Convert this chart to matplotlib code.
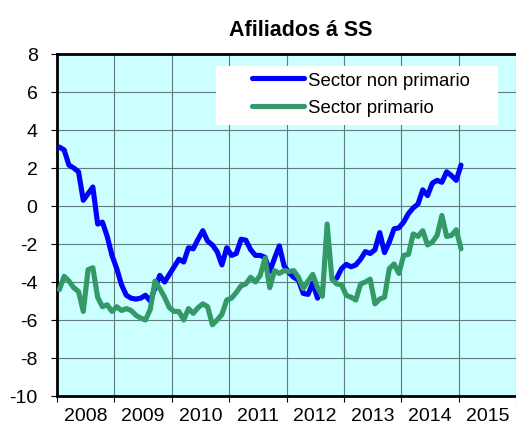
import numpy as np
import matplotlib.pyplot as plt
from matplotlib.patches import Rectangle

plt.rcParams['font.family'] = ['Liberation Sans', 'DejaVu Sans']
plt.rcParams['axes.unicode_minus'] = False

# monthly series, Jan 2008 - Jan 2015 (year-on-year %)
non_primary = [3.1, 2.95, 2.15, 2.0, 1.8, 0.3, 0.65, 1.0, -0.95, -0.85,
               -1.6, -2.6, -3.3, -4.15, -4.7, -4.85, -4.9, -4.85, -4.7, -5.0,
               -4.3, -3.65, -4.0, -3.6, -3.2, -2.8, -2.95, -2.2, -2.25, -1.75,
               -1.3, -1.85, -2.05, -2.4, -3.1, -2.2, -2.6, -2.5, -1.75, -1.8,
               -2.3, -2.6, -2.6, -2.7, -3.45, -2.75, -2.1, -3.15, -3.5, -3.75,
               -3.9, -4.6, -4.65, -4.05, -4.85, np.nan, np.nan, np.nan, -3.8, -3.3,
               -3.07, -3.2, -3.1, -2.8, -2.4, -2.5, -2.3, -1.4, -2.45, -1.9,
               -1.2, -1.15, -0.85, -0.4, -0.1, 0.1, 0.85, 0.55, 1.2, 1.35,
               1.25, 1.8, 1.6, 1.35, 2.15]
primary = [-4.4, -3.7, -3.95, -4.3, -4.5, -5.55, -3.35, -3.25, -4.8, -5.3,
           -5.2, -5.55, -5.3, -5.5, -5.4, -5.5, -5.75, -5.9, -6.0, -5.45,
           -3.95, -4.35, -4.8, -5.35, -5.55, -5.55, -6.0, -5.4, -5.65, -5.35,
           -5.15, -5.3, -6.25, -6.0, -5.7, -4.95, -4.85, -4.55, -4.2, -4.1,
           -3.75, -4.0, -3.65, -2.75, -4.3, -3.4, -3.55, -3.4, -3.45, -3.4,
           -3.75, -4.35, -3.95, -3.6, -4.3, -4.75, -0.95, -3.85, -4.1, -4.15,
           -4.7, -4.8, -4.95, -4.1, -4.0, -3.85, -5.15, -4.9, -4.8, -3.3,
           -3.05, -3.55, -2.6, -2.55, -1.47, -1.6, -1.3, -2.05, -1.9, -1.55,
           -0.5, -1.6, -1.55, -1.25, -2.25]
years = ['2008', '2009', '2010', '2011', '2012', '2013', '2014', '2015']
labels = ['Sector non primario', 'Sector primario']

months = np.arange(len(non_primary)) + 0.5

fig = plt.figure(figsize=(5.16, 4.31), dpi=100)
ax = fig.add_axes([57 / 516, 34 / 431, 459 / 516, 342 / 431])
ax.set_facecolor('#ccffff')

ax.plot(months, non_primary, color='#0000ff', lw=3.7, label=labels[0],
        solid_joinstyle='round', solid_capstyle='round', zorder=3)
ax.plot(months, primary, color='#339966', lw=3.7, label=labels[1],
        solid_joinstyle='round', solid_capstyle='round', zorder=3)

ax.set_xlim(0, 12 * len(years))
ax.set_ylim(-10, 8)
ax.set_yticks(np.arange(-10, 9, 2))
ax.set_xticks(np.arange(0, 12 * len(years) + 1, 12))
ax.set_xticks(np.arange(6, 12 * len(years), 12), minor=True)
ax.set_xticklabels([])
ax.set_xticklabels(years, minor=True)
ax.tick_params(axis='x', which='minor', length=0, pad=8, labelsize=14)
ax.tick_params(axis='x', which='major', length=4, width=0.8, direction='out')
ax.tick_params(axis='y', length=4, width=0.8, direction='out', pad=10, labelsize=14)

ax.grid(True, which='major', color='#5f7d7d', lw=0.8)
ax.set_axisbelow(True)

for side in ['left', 'bottom', 'top']:
    ax.spines[side].set_linewidth(2)
    ax.spines[side].set_color('black')
ax.spines['right'].set_visible(False)

# white legend panel
ax.add_patch(Rectangle((0.3464, 0.7924), 0.6144, 0.1726, transform=ax.transAxes,
                       facecolor='white', edgecolor='none', zorder=4))
leg = ax.legend(loc='upper left', bbox_to_anchor=((251.7 - 57) / 459, 0.948),
                frameon=False, borderpad=0, borderaxespad=0, handlelength=2.8,
                handletextpad=0.2, labelspacing=0.55, fontsize=13.4)
leg.set_zorder(5)

fig.text(301 / 516, 1 - 30 / 431, 'Afiliados á SS', ha='center', va='center',
         fontsize=15.5, fontweight='bold')

fig.savefig('out.png', dpi=100)
